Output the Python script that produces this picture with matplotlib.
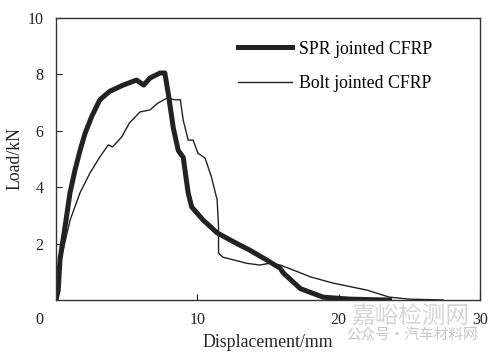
import matplotlib
matplotlib.use("Agg")
import matplotlib.pyplot as plt

spr_disp = [0, 0.16, 0.28, 0.64, 0.99, 1.34, 1.7, 2.05, 2.52, 3.1, 3.8, 4.75, 5.7, 6.2, 6.65, 7.36,
            7.7, 7.95, 8.3, 8.65, 9.0, 9.35, 9.6, 10.4, 11.4, 12.8, 13.7, 14.9, 15.85, 16.1, 17.3,
            18.9, 20.8, 22.5, 23.6]
spr_load = [0, 0.35, 1.42, 2.6, 3.8, 4.6, 5.3, 5.9, 6.5, 7.1, 7.4, 7.62, 7.8, 7.62, 7.87, 8.05,
            8.05, 7.3, 6.1, 5.3, 5.06, 3.8, 3.3, 2.84, 2.38, 2.0, 1.77, 1.42, 1.13, 0.95, 0.4,
            0.1, 0.03, 0.01, 0]

bolt_disp = [0, 0.05, 0.5, 1.0, 1.7, 2.4, 3.1, 3.7, 4.0, 4.65, 5.2, 5.95, 6.65, 7.2, 7.85, 8.4,
             8.8, 9.0, 9.35, 9.7, 10.05, 10.55, 11.0, 11.4, 11.5, 11.5, 11.8, 13.5, 14.4, 15.1,
             15.85, 16.8, 18.0, 19.6, 22.0, 23.6, 25.0, 27.4]
bolt_load = [0, 0.8, 1.77, 2.84, 3.8, 4.5, 5.07, 5.5, 5.43, 5.78, 6.28, 6.67, 6.74, 6.98, 7.16, 7.1,
             7.1, 6.38, 5.67, 5.67, 5.2, 5.03, 4.36, 3.55, 2.6, 1.67, 1.52, 1.3, 1.24, 1.3,
             1.24, 1.06, 0.82, 0.6, 0.35, 0.1, 0.03, 0.0]

x_ticks = [10, 20, 30]
y_ticks = [2, 4, 6, 8, 10]
labels = ["SPR jointed CFRP", "Bolt jointed CFRP"]

plt.rcParams['font.family'] = ['Liberation Serif', 'DejaVu Serif']
fig = plt.figure(figsize=(5, 3.6), dpi=100)
ax = fig.add_axes([0.112, 0.1667, 0.848, 0.7833])
ax.plot(spr_disp, spr_load, color='#222222', lw=3.6, label=labels[0], solid_joinstyle='round')
ax.plot(bolt_disp, bolt_load, color='#222222', lw=1.0, label=labels[1])
ax.set_xlim(0, 30)
ax.set_ylim(0, 10)
ax.set_xticks(x_ticks)
ax.set_yticks(y_ticks)
ax.tick_params(direction='in', length=4, width=0.8, labelsize=11.5, colors='#222222')
ax.tick_params(axis='x', pad=9)
ax.tick_params(axis='y', pad=9)
ax.text(-0.04, -0.072, "0", transform=ax.transAxes, ha='center', va='center', fontsize=11.5, color='#222222')
for s in ax.spines.values():
    s.set_linewidth(1.0)
    s.set_color('#333333')
ax.set_xlabel("Displacement/mm", fontsize=12.8, color='#222222', labelpad=4)
ax.set_ylabel("Load/kN", fontsize=12.8, color='#222222', labelpad=3)
ax.legend(loc='upper left', bbox_to_anchor=(0.43, 0.92), frameon=False, fontsize=12.8,
          handlelength=3.0, handletextpad=0.42, labelspacing=1.0, borderpad=0, borderaxespad=0)

fig.text(0.82, 0.12, "嘉峪检测网", fontsize=17, color='#c4c4c4', alpha=0.7, ha='center', va='center',
         family=['Noto Sans CJK SC', 'DejaVu Sans'])
fig.text(0.825, 0.069, "公众号·汽车材料网", fontsize=10.5, color='#b8b8b8', alpha=0.8, ha='center', va='center',
         family=['Noto Sans CJK SC', 'DejaVu Sans'])
fig.savefig("out.png", dpi=100)
